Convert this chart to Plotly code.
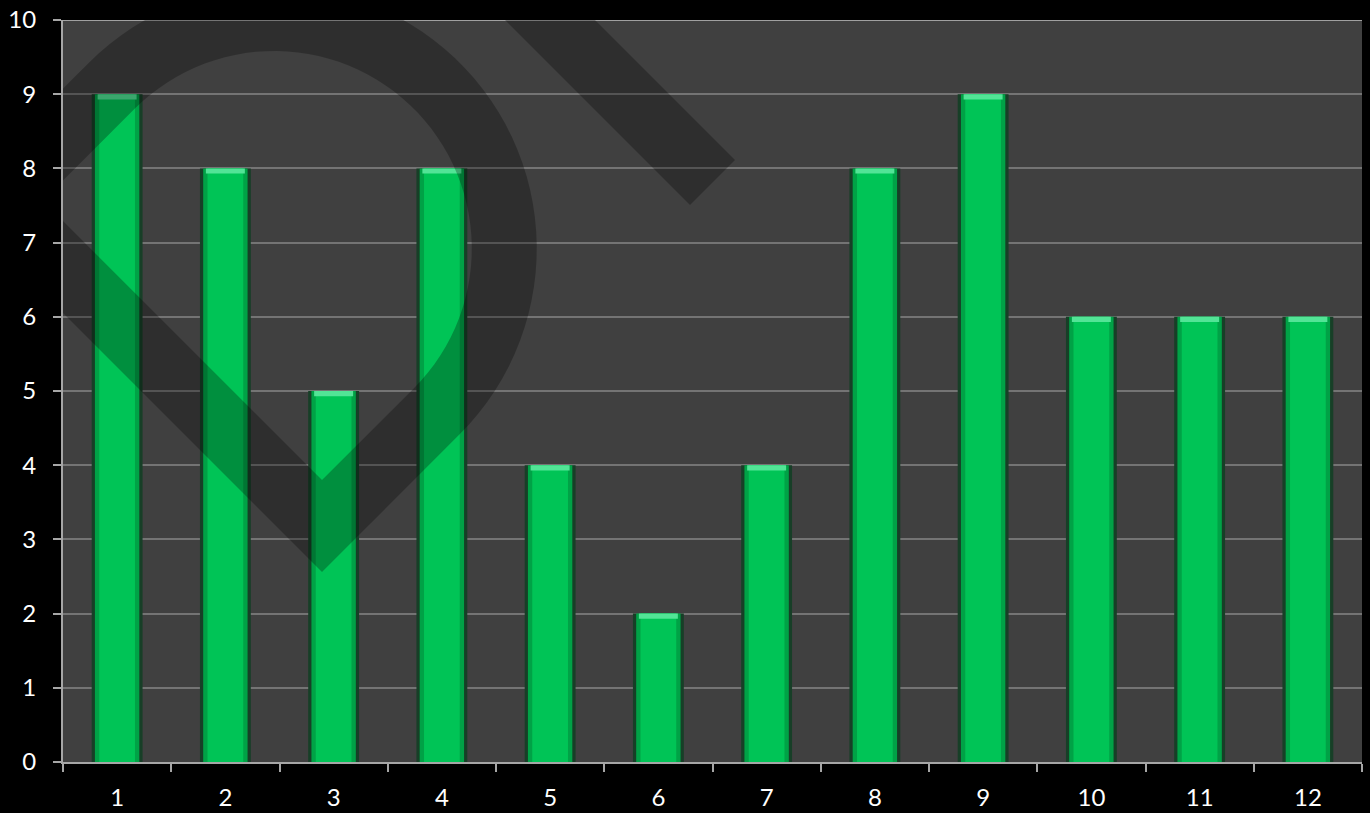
import numpy as np
import plotly.graph_objects as go

# ---- data ----
categories = [str(i) for i in range(1, 13)]
values = [9, 8, 5, 8, 4, 2, 4, 8, 9, 6, 6, 6]
y_ticks = list(range(0, 11))

# ---- plot-area geometry (pixels) used to place the background logo ----
W, H = 1370, 813
M_L, M_R, M_T, M_B = 63, 8, 20, 51
plot_w = W - M_L - M_R
plot_h = H - M_T - M_B
n_cat = len(categories)


def px_to_data(px, py):
    x = -0.5 + (px - M_L) / plot_w * n_cat
    y = (H - M_B - py) / plot_h * 10
    return x, y


def path_from_px(points):
    pts = [px_to_data(px, py) for px, py in points]
    return "M " + " L ".join(f"{x:.4f},{y:.4f}" for x, y in pts) + " Z"


# logo drawn in a frame rotated by 45 degrees around its lower tip
tip = (322.0, 572.0)
s = 1 / np.sqrt(2)


def uv(u, v):
    return (tip[0] + (u - v) * s, tip[1] - (u + v) * s)


band = 65.0
outer_h = 525.0
u_arc = 195.0
c_v = outer_h / 2
r_out = outer_h / 2
r_in = r_out - band

outer = [uv(0, 0), uv(u_arc, 0)]
for t in np.linspace(-np.pi / 2, np.pi / 2, 60):
    outer.append(uv(u_arc + r_out * np.cos(t), c_v + r_out * np.sin(t)))
outer += [uv(u_arc, outer_h), uv(0, outer_h)]

inner = [uv(band, band), uv(band, outer_h - band), uv(u_arc, outer_h - band)]
for t in np.linspace(np.pi / 2, -np.pi / 2, 60):
    inner.append(uv(u_arc + r_in * np.cos(t), c_v + r_in * np.sin(t)))
inner.append(uv(u_arc, band))

stroke = [(285, -200), (690, 205), (735, 160), (375, -200)]

logo_path = path_from_px(outer) + " " + path_from_px(inner)
stroke_path = path_from_px(stroke)

fig = go.Figure()

# bars: soft dark rim, mid tone, bright core, and a light cap
fig.add_bar(x=categories, y=values, width=0.47, marker=dict(color="#173f27", line_width=0),
            hoverinfo="skip")
fig.add_bar(x=categories, y=values, width=0.41, marker=dict(color="#00a246", line_width=0),
            hoverinfo="skip")
fig.add_bar(x=categories, y=values, width=0.33, marker=dict(color="#00c456", line_width=0))
cap = 0.07
fig.add_bar(x=categories, y=[cap] * n_cat, base=[v - cap for v in values], width=0.36,
            marker=dict(color="#52e496", line_width=0), hoverinfo="skip")

fig.update_layout(
    width=W,
    height=H,
    margin=dict(l=M_L, r=M_R, t=M_T, b=M_B, autoexpand=False),
    paper_bgcolor="#000000",
    plot_bgcolor="#404040",
    barmode="overlay",
    showlegend=False,
    font=dict(family="Lato, 'Open Sans', sans-serif", color="#ffffff", size=24),
    xaxis=dict(
        type="category",
        range=[-0.5, n_cat - 0.5],
        automargin=False,
        tickson="boundaries",
        ticks="outside",
        ticklen=8,
        tickwidth=2,
        tickcolor="#a6a6a6",
        showline=True,
        linecolor="#a6a6a6",
        linewidth=2,
        showgrid=False,
        ticklabelstandoff=13,
        tickfont=dict(size=24, color="#ffffff"),
    ),
    yaxis=dict(
        range=[0, 10],
        automargin=False,
        tickvals=y_ticks,
        ticks="outside",
        ticklen=8,
        tickwidth=2,
        tickcolor="#a6a6a6",
        showline=True,
        linecolor="#a6a6a6",
        linewidth=2,
        gridcolor="#747474",
        gridwidth=2,
        zeroline=False,
        ticklabelstandoff=12,
        tickfont=dict(size=24, color="#ffffff"),
    ),
    shapes=[
        dict(type="line", xref="paper", yref="y", x0=0, x1=1, y0=10, y1=10,
             line=dict(color="#a0a0a0", width=2), layer="above"),
        dict(type="path", xref="x", yref="y", path=logo_path,
             fillcolor="rgba(0,0,0,0.27)", line=dict(width=0), layer="above"),
        dict(type="path", xref="x", yref="y", path=stroke_path,
             fillcolor="rgba(0,0,0,0.27)", line=dict(width=0), layer="above"),
    ],
)

fig.write_html("out.html")
